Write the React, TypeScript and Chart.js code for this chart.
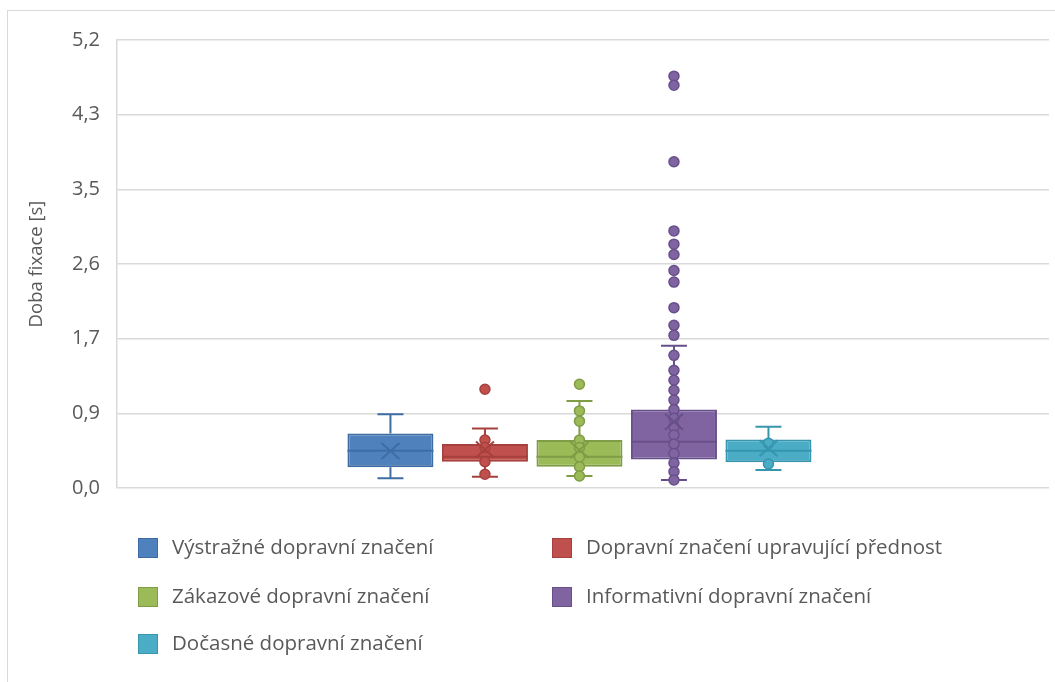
import React, { useEffect, useRef } from "react";
import { Chart, registerables } from "chart.js";
Chart.register(...registerables);

const seriesNames = [
  "Výstražné dopravní značení",
  "Dopravní značení upravující přednost",
  "Zákazové dopravní značení",
  "Informativní dopravní značení",
  "Dočasné dopravní značení",
];
const fillColors = ["#4F81BD", "#C0504D", "#9BBB59", "#8064A2", "#4BACC6"];
const lineColors = ["#3E6DA3", "#A6403D", "#7F9C46", "#67508A", "#3795AE"];

const q1 = [0.24, 0.305, 0.247, 0.332, 0.298];
const q3 = [0.633, 0.51, 0.556, 0.911, 0.564];
const medians = [0.432, 0.363, 0.363, 0.536, 0.432];
const means = [0.43, 0.448, 0.44, 0.77, 0.46];
const whiskerLow = [0.112, 0.131, 0.139, 0.093, 0.208];
const whiskerHigh = [0.855, 0.69, 1.01, 1.652, 0.71];

const pointsBlue: number[] = [];
const pointsRed = [1.146, 0.556, 0.47, 0.305, 0.159];
const pointsGreen = [1.204, 0.895, 0.776, 0.556, 0.47, 0.36, 0.247, 0.139];
const pointsPurple = [
  4.78, 4.675, 3.787, 2.984, 2.83, 2.71, 2.525, 2.39, 2.093, 1.888, 1.772, 1.54,
  1.366, 1.25, 1.135, 1.02, 0.91, 0.81, 0.71, 0.614, 0.51, 0.4, 0.29, 0.19, 0.093,
];
const pointsCyan = [0.518, 0.278];
const pointSets = [pointsBlue, pointsRed, pointsGreen, pointsPurple, pointsCyan];

const tickValues = [0, 5.2 / 6, (5.2 * 2) / 6, 2.6, (5.2 * 4) / 6, (5.2 * 5) / 6, 5.2];
const tickLabels = ["0,0", "0,9", "1,7", "2,6", "3,5", "4,3", "5,2"];

const FONT = "'Open Sans', 'Noto Sans', sans-serif";
const TEXT = "#595959";

const boxPlugin = {
  id: "boxExtras",
  afterDatasetsDraw(chart: any) {
    const ctx = chart.ctx;
    const y = chart.scales.y;
    ctx.save();
    for (let i = 0; i < seriesNames.length; i++) {
      const bar = chart.getDatasetMeta(i).data[0];
      if (!bar) continue;
      const x = bar.x;
      const w = bar.width;
      const col = lineColors[i];
      ctx.strokeStyle = col;
      ctx.lineWidth = 2;
      const capHalf = 13;
      ctx.beginPath();
      ctx.moveTo(x, y.getPixelForValue(whiskerHigh[i]));
      ctx.lineTo(x, y.getPixelForValue(q3[i]));
      ctx.moveTo(x, y.getPixelForValue(q1[i]));
      ctx.lineTo(x, y.getPixelForValue(whiskerLow[i]));
      ctx.moveTo(x - capHalf, y.getPixelForValue(whiskerHigh[i]));
      ctx.lineTo(x + capHalf, y.getPixelForValue(whiskerHigh[i]));
      ctx.moveTo(x - capHalf, y.getPixelForValue(whiskerLow[i]));
      ctx.lineTo(x + capHalf, y.getPixelForValue(whiskerLow[i]));
      const my = y.getPixelForValue(medians[i]);
      ctx.moveTo(x - w / 2, my);
      ctx.lineTo(x + w / 2, my);
      ctx.stroke();
      for (const v of pointSets[i]) {
        const py = y.getPixelForValue(v);
        ctx.beginPath();
        ctx.arc(x, py, 5, 0, Math.PI * 2);
        ctx.fillStyle = fillColors[i];
        ctx.fill();
        ctx.lineWidth = 1.5;
        ctx.strokeStyle = col;
        ctx.stroke();
      }
      const meanY = y.getPixelForValue(means[i]);
      ctx.strokeStyle = col;
      ctx.lineWidth = 2;
      ctx.beginPath();
      ctx.moveTo(x - 9, meanY - 8);
      ctx.lineTo(x + 9, meanY + 8);
      ctx.moveTo(x + 9, meanY - 8);
      ctx.lineTo(x - 9, meanY + 8);
      ctx.stroke();
    }
    ctx.restore();
  },
};

const legendPlugin = {
  id: "gridLegend",
  afterDraw(chart: any) {
    const ctx = chart.ctx;
    const colX = [130, 544];
    const rowY = [537, 586, 633];
    ctx.save();
    ctx.font = `20.5px ${FONT}`;
    ctx.textBaseline = "middle";
    ctx.textAlign = "left";
    seriesNames.forEach((name, i) => {
      const cx = colX[i % 2];
      const cy = rowY[Math.floor(i / 2)];
      ctx.fillStyle = fillColors[i];
      ctx.fillRect(cx, cy - 10, 20, 20);
      ctx.strokeStyle = lineColors[i];
      ctx.lineWidth = 1;
      ctx.strokeRect(cx + 0.5, cy - 9.5, 19, 19);
      ctx.fillStyle = TEXT;
      ctx.fillText(name, cx + 34, cy);
    });
    ctx.restore();
  },
};

export default function App() {
  const ref = useRef<HTMLCanvasElement | null>(null);
  useEffect(() => {
    if (!ref.current) return;
    const chart = new Chart(ref.current, {
      type: "bar",
      data: {
        labels: [""],
        datasets: seriesNames.map((name, i) => ({
          label: name,
          data: [[q1[i], q3[i]]] as any,
          backgroundColor: fillColors[i],
          borderColor: lineColors[i],
          borderWidth: 2,
          borderSkipped: false,
          categoryPercentage: 0.507,
          barPercentage: 0.91,
        })),
      },
      options: {
        animation: false,
        responsive: true,
        maintainAspectRatio: false,
        layout: { padding: { top: 28, right: 6, bottom: 194, left: 0 } },
        plugins: { legend: { display: false }, tooltip: { enabled: false } },
        scales: {
          x: {
            display: false,
            afterBuildTicks: (scale: any) => {
              scale._startValue += 0.0038;
            },
          },
          y: {
            min: 0,
            max: 5.2,
            afterBuildTicks: (scale: any) => {
              scale.ticks = tickValues.map((v) => ({ value: v }));
            },
            afterFit: (scale: any) => {
              scale.width = 109;
            },
            ticks: {
              callback: (_v: any, idx: number) => tickLabels[idx],
              color: TEXT,
              font: { family: FONT, size: 20 },
              padding: 17,
            },
            grid: { color: "#d9d9d9", lineWidth: 1.5, drawTicks: false },
            border: { display: true, color: "#d9d9d9", width: 1.5 },
            title: {
              display: true,
              text: "Doba fixace [s]",
              color: TEXT,
              font: { family: FONT, size: 18.5 },
              padding: { top: 18, bottom: 4 },
            },
          },
        },
      },
      plugins: [boxPlugin, legendPlugin],
    });
    return () => chart.destroy();
  }, []);
  return (
    <div
      style={{
        position: "fixed",
        left: 7,
        top: 10,
        width: 1048,
        height: 672,
        borderLeft: "1px solid #d9d9d9",
        borderTop: "1px solid #d9d9d9",
        boxSizing: "border-box",
        background: "#fff",
      }}
    >
      <div style={{ position: "relative", width: 1047, height: 671 }}>
        <canvas ref={ref} />
      </div>
    </div>
  );
}
